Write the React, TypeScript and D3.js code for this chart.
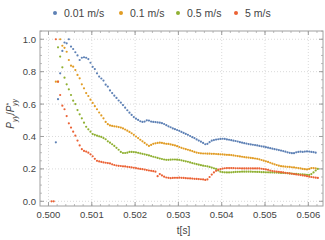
import React from 'react';
import * as d3 from 'd3';

// time grid of the samples (s)
const step = 0.00005;
const seriesNames = ['0.01 m/s', '0.1 m/s', '0.5 m/s', '5 m/s'];
const seriesStarts = [0.50017, 0.50017, 0.50022, 0.50007];
const colors = ['#5E81B5', '#E19C24', '#8FB032', '#EB6235'];

const blueVals = [
  0.364, 0.63, 0.79, 0.928, 0.98, 0.975, 1.0, 0.955, 0.94, 0.92,
  0.9, 0.872, 0.886, 0.889, 0.886, 0.878, 0.855, 0.83, 0.816, 0.79,
  0.77, 0.758, 0.745, 0.72, 0.708, 0.684, 0.668, 0.652, 0.638, 0.622,
  0.609, 0.594, 0.578, 0.562, 0.547, 0.533, 0.52, 0.51, 0.502, 0.494,
  0.49, 0.492, 0.5, 0.498, 0.492, 0.49, 0.489, 0.487, 0.485, 0.482,
  0.477, 0.47, 0.463, 0.457, 0.45, 0.445, 0.44, 0.435, 0.428, 0.422,
  0.416, 0.41, 0.403, 0.396, 0.39, 0.382, 0.375, 0.368, 0.36, 0.352,
  0.355, 0.365, 0.374, 0.378, 0.381, 0.383, 0.385, 0.386, 0.385, 0.382,
  0.38, 0.377, 0.374, 0.372, 0.369, 0.365, 0.362, 0.359, 0.356, 0.353,
  0.351, 0.349, 0.347, 0.345, 0.342, 0.339, 0.337, 0.334, 0.331, 0.328,
  0.325, 0.322, 0.319, 0.316, 0.313, 0.31, 0.306, 0.302, 0.299, 0.297,
  0.297, 0.302, 0.305, 0.306, 0.305, 0.307, 0.308, 0.307, 0.305, 0.303, 0.3,
];

const orangeVals = [
  0.738, 0.738, 1.0, 0.96, 0.947, 0.923, 0.872, 0.837, 0.831, 0.81,
  0.78, 0.759, 0.722, 0.697, 0.668, 0.65, 0.627, 0.607, 0.587, 0.568,
  0.548, 0.53, 0.512, 0.49, 0.476, 0.468, 0.465, 0.463, 0.461, 0.458,
  0.455, 0.45, 0.443, 0.436, 0.428, 0.42, 0.41, 0.4, 0.39, 0.38,
  0.37, 0.36, 0.35, 0.342, 0.348, 0.355, 0.358, 0.36, 0.362, 0.36,
  0.357, 0.355, 0.354, 0.351, 0.348, 0.345, 0.34, 0.335, 0.33, 0.326,
  0.322, 0.318, 0.314, 0.31, 0.305, 0.301, 0.298, 0.296, 0.295, 0.295,
  0.294, 0.294, 0.293, 0.293, 0.292, 0.291, 0.29, 0.289, 0.288, 0.287,
  0.286, 0.285, 0.283, 0.281, 0.279, 0.277, 0.275, 0.273, 0.271, 0.27,
  0.268, 0.266, 0.264, 0.262, 0.259, 0.255, 0.251, 0.247, 0.243, 0.238,
  0.233, 0.228, 0.224, 0.22, 0.217, 0.215, 0.214, 0.213, 0.212, 0.21,
  0.209, 0.207, 0.205, 0.203, 0.2, 0.198, 0.197, 0.2, 0.205, 0.205, 0.203,
];

const greenVals = [
  0.95, 0.893, 0.827, 0.763, 0.722, 0.691, 0.656, 0.621, 0.6, 0.563,
  0.537, 0.512, 0.485, 0.46, 0.444, 0.43, 0.415, 0.41, 0.405, 0.401,
  0.397, 0.39, 0.383, 0.37, 0.362, 0.352, 0.342, 0.33, 0.318, 0.305,
  0.298, 0.298, 0.3, 0.305, 0.305, 0.304, 0.302, 0.299, 0.296, 0.293,
  0.29, 0.287, 0.283, 0.279, 0.275, 0.272, 0.268, 0.264, 0.261, 0.258,
  0.256, 0.256, 0.257, 0.258, 0.258, 0.257, 0.256, 0.253, 0.25, 0.247,
  0.244, 0.24, 0.236, 0.233, 0.229, 0.226, 0.223, 0.22, 0.218, 0.216,
  0.212, 0.208, 0.204, 0.2, 0.19, 0.183, 0.18, 0.179, 0.178, 0.178,
  0.179, 0.18, 0.181, 0.182, 0.182, 0.183, 0.183, 0.183, 0.183, 0.183,
  0.182, 0.182, 0.181, 0.181, 0.18, 0.18, 0.179, 0.179, 0.178, 0.178,
  0.177, 0.177, 0.176, 0.175, 0.175, 0.174, 0.173, 0.172, 0.171, 0.17,
  0.169, 0.168, 0.167, 0.166, 0.165, 0.164, 0.163, 0.168, 0.178, 0.19, 0.2,
];

const redVals = [
  0, 0, 1.0, 0.738, 0.656, 0.59, 0.568, 0.526, 0.481, 0.455,
  0.43, 0.405, 0.375, 0.345, 0.322, 0.311, 0.307, 0.3, 0.29, 0.278,
  0.262, 0.25, 0.246, 0.243, 0.24, 0.238, 0.236, 0.234, 0.228, 0.224,
  0.221, 0.219, 0.218, 0.216, 0.215, 0.213, 0.211, 0.209, 0.207, 0.205,
  0.202, 0.2, 0.198, 0.196, 0.193, 0.19, 0.188, 0.186, 0.183, 0.155,
  0.168, 0.16, 0.152, 0.147, 0.145, 0.143, 0.144, 0.145, 0.145, 0.146,
  0.145, 0.144, 0.143, 0.142, 0.141, 0.14, 0.139, 0.138, 0.137, 0.136,
  0.135, 0.132, 0.135, 0.15, 0.165, 0.178, 0.188, 0.195, 0.199, 0.202,
  0.204, 0.205, 0.205, 0.205, 0.205, 0.204, 0.204, 0.204, 0.203, 0.203,
  0.203, 0.203, 0.203, 0.203, 0.203, 0.203, 0.203, 0.201, 0.199, 0.197,
  0.194, 0.19, 0.187, 0.185, 0.183, 0.182, 0.18, 0.178, 0.176, 0.174,
  0.172, 0.17, 0.168, 0.166, 0.164, 0.162, 0.16, 0.158, 0.155, 0.152,
  0.15, 0.148, 0.146, 0.144,
];

const allVals = [blueVals, orangeVals, greenVals, redVals];

const xTicks = [0.5, 0.501, 0.502, 0.503, 0.504, 0.505, 0.506];
const yTicks = [0, 0.2, 0.4, 0.6, 0.8, 1.0];

const W = 325;
const H = 240;
const m = { left: 40, right: 2, top: 31, bottom: 34 };

export default function App() {
  const x = d3.scaleLinear().domain([0.499804, 0.506339]).range([m.left, W - m.right]);
  const y = d3.scaleLinear().domain([-0.029, 1.051]).range([H - m.bottom, m.top]);
  const [x0, x1] = x.range();
  const [y0, y1] = y.range();

  const xMinor = d3.range(0.4998, 0.50635, 0.0002).filter(t => t >= x.domain()[0] && t <= x.domain()[1]);
  const yMinor = d3.range(0, 1.06, 0.05);

  const font = 'Liberation Sans, Arial, sans-serif';
  const frame = '#a0a0a0';
  const label = '#444';

  return (
    <svg width={W} height={H} style={{ position: 'absolute', left: 0, top: 0 }} fontFamily={font}>
      <rect width={W} height={H} fill="#fff" />
      {/* grid */}
      {xTicks.map(t => (
        <line key={'gx' + t} x1={x(t)} x2={x(t)} y1={y1} y2={y0} stroke="#d0d0d0" strokeWidth={0.8} strokeDasharray="1,2" />
      ))}
      {yTicks.map(v => (
        <line key={'gy' + v} x1={x0} x2={x1} y1={y(v)} y2={y(v)} stroke="#d0d0d0" strokeWidth={0.8} strokeDasharray="1,2" />
      ))}
      {/* frame */}
      <rect x={x0} y={y1} width={x1 - x0} height={y0 - y1} fill="none" stroke={frame} strokeWidth={1} />
      {/* ticks, all four sides */}
      {xTicks.map(t => (
        <g key={'tx' + t} stroke={frame}>
          <line x1={x(t)} x2={x(t)} y1={y0} y2={y0 - 4} />
          <line x1={x(t)} x2={x(t)} y1={y1} y2={y1 + 4} />
        </g>
      ))}
      {xMinor.map((t, i) => (
        <g key={'mx' + i} stroke={frame} strokeWidth={0.7}>
          <line x1={x(t)} x2={x(t)} y1={y0} y2={y0 - 2} />
          <line x1={x(t)} x2={x(t)} y1={y1} y2={y1 + 2} />
        </g>
      ))}
      {yTicks.map(v => (
        <g key={'ty' + v} stroke={frame}>
          <line x1={x0} x2={x0 + 4} y1={y(v)} y2={y(v)} />
          <line x1={x1} x2={x1 - 4} y1={y(v)} y2={y(v)} />
        </g>
      ))}
      {yMinor.map((v, i) => (
        <g key={'my' + i} stroke={frame} strokeWidth={0.7}>
          <line x1={x0} x2={x0 + 2} y1={y(v)} y2={y(v)} />
          <line x1={x1} x2={x1 - 2} y1={y(v)} y2={y(v)} />
        </g>
      ))}
      {/* tick labels */}
      {xTicks.map(t => (
        <text key={'lx' + t} x={x(t)} y={y0 + 12} fontSize={9.5} fill={label} textAnchor="middle">
          {d3.format('.3f')(t)}
        </text>
      ))}
      {yTicks.map(v => (
        <text key={'ly' + v} x={x0 - 4} y={y(v) + 3.5} fontSize={9.5} fill={label} textAnchor="end">
          {d3.format('.1f')(v)}
        </text>
      ))}
      <text x={(x0 + x1) / 2 + 2} y={H - 6} fontSize={10} fill={label} textAnchor="middle">t[s]</text>
      <text transform={`translate(14,${y(0.54)}) rotate(-90)`} fontSize={10} fill={label} textAnchor="middle">
        <tspan fontStyle="italic">P</tspan>
        <tspan fontStyle="italic" fontSize={7} dy={2.5}>yy</tspan>
        <tspan dy={-2.5}>/</tspan>
        <tspan fontStyle="italic">P</tspan>
        <tspan fontSize={7} dy={-3.5}>*</tspan>
        <tspan fontStyle="italic" fontSize={7} dx={-3} dy={6}>yy</tspan>
      </text>
      {/* points */}
      <g>
        {allVals.map((vals, s) =>
          vals.map((v, i) => (
            <circle key={s + '-' + i} cx={x(seriesStarts[s] + i * step)} cy={y(v)} r={1.1} fill={colors[s]} />
          ))
        )}
      </g>
      {/* legend */}
      {[55, 121, 178, 236].map((lx, s) => (
        <g key={'lg' + s}>
          <circle cx={lx} cy={13} r={2} fill={colors[s]} />
          <text x={lx + 9} y={17} fontSize={10.5} fill={label}>{seriesNames[s]}</text>
        </g>
      ))}
    </svg>
  );
}
